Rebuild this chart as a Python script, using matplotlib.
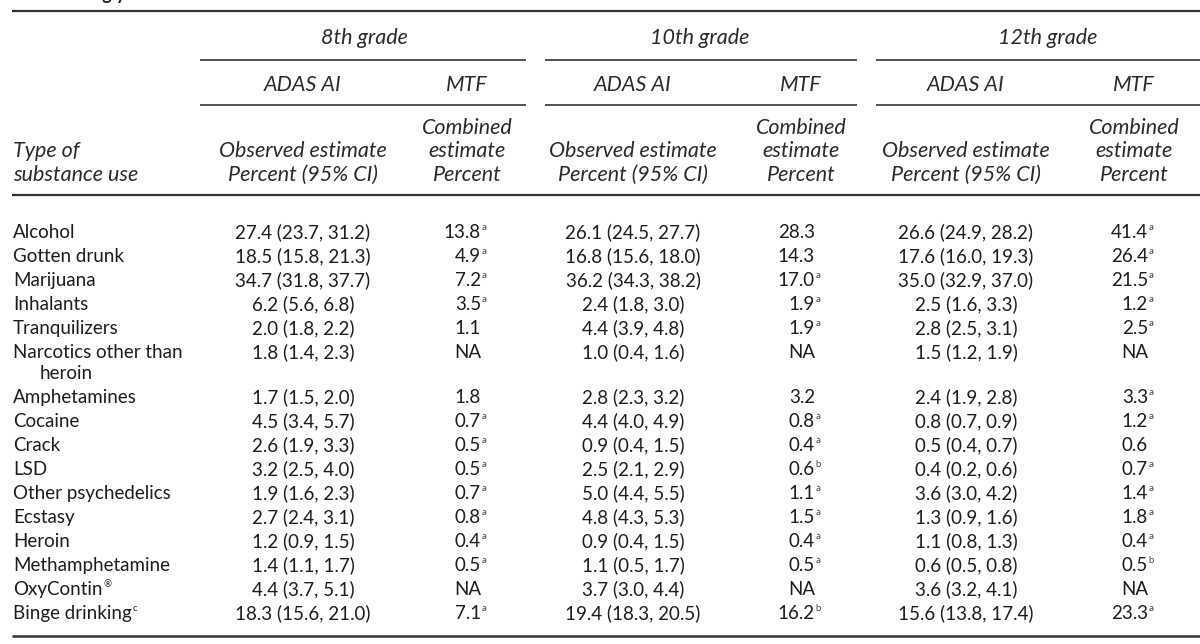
import matplotlib
matplotlib.use("Agg")
import matplotlib.pyplot as plt

# ---------------------------------------------------------
# DATA
# ---------------------------------------------------------

substances = [
    "Alcohol", "Gotten drunk", "Marijuana", "Inhalants", "Tranquilizers",
    "Narcotics other than", "Amphetamines", "Cocaine", "Crack", "LSD",
    "Other psychedelics", "Ecstasy", "Heroin", "Methamphetamine",
    "OxyContin", "Binge drinking",
]
label_marks = {"OxyContin": "®", "Binge drinking": "c"}
wrapped = {"Narcotics other than": "heroin"}

grades = ["8th grade", "10th grade", "12th grade"]

# ADAS AI observed estimate with 95% CI
adas_8 = [27.4, 18.5, 34.7, 6.2, 2.0, 1.8, 1.7, 4.5, 2.6, 3.2, 1.9, 2.7, 1.2, 1.4, 4.4, 18.3]
lo_8 = [23.7, 15.8, 31.8, 5.6, 1.8, 1.4, 1.5, 3.4, 1.9, 2.5, 1.6, 2.4, 0.9, 1.1, 3.7, 15.6]
hi_8 = [31.2, 21.3, 37.7, 6.8, 2.2, 2.3, 2.0, 5.7, 3.3, 4.0, 2.3, 3.1, 1.5, 1.7, 5.1, 21.0]

adas_10 = [26.1, 16.8, 36.2, 2.4, 4.4, 1.0, 2.8, 4.4, 0.9, 2.5, 5.0, 4.8, 0.9, 1.1, 3.7, 19.4]
lo_10 = [24.5, 15.6, 34.3, 1.8, 3.9, 0.4, 2.3, 4.0, 0.4, 2.1, 4.4, 4.3, 0.4, 0.5, 3.0, 18.3]
hi_10 = [27.7, 18.0, 38.2, 3.0, 4.8, 1.6, 3.2, 4.9, 1.5, 2.9, 5.5, 5.3, 1.5, 1.7, 4.4, 20.5]

adas_12 = [26.6, 17.6, 35.0, 2.5, 2.8, 1.5, 2.4, 0.8, 0.5, 0.4, 3.6, 1.3, 1.1, 0.6, 3.6, 15.6]
lo_12 = [24.9, 16.0, 32.9, 1.6, 2.5, 1.2, 1.9, 0.7, 0.4, 0.2, 3.0, 0.9, 0.8, 0.5, 3.2, 13.8]
hi_12 = [28.2, 19.3, 37.0, 3.3, 3.1, 1.9, 2.8, 0.9, 0.7, 0.6, 4.2, 1.6, 1.3, 0.8, 4.1, 17.4]

# MTF combined estimate (None = NA) and footnote marks
mtf_8 = [13.8, 4.9, 7.2, 3.5, 1.1, None, 1.8, 0.7, 0.5, 0.5, 0.7, 0.8, 0.4, 0.5, None, 7.1]
note_8 = ["a", "a", "a", "a", "", "", "", "a", "a", "a", "a", "a", "a", "a", "", "a"]

mtf_10 = [28.3, 14.3, 17.0, 1.9, 1.9, None, 3.2, 0.8, 0.4, 0.6, 1.1, 1.5, 0.4, 0.5, None, 16.2]
note_10 = ["", "", "a", "a", "a", "", "", "a", "a", "b", "a", "a", "a", "a", "", "b"]

mtf_12 = [41.4, 26.4, 21.5, 1.2, 2.5, None, 3.3, 1.2, 0.6, 0.7, 1.4, 1.8, 0.4, 0.5, None, 23.3]
note_12 = ["a", "a", "a", "a", "a", "", "a", "a", "", "a", "a", "a", "a", "b", "", "a"]

# ---------------------------------------------------------
# LAYOUT (pixel units, y downwards)
# ---------------------------------------------------------

FONT = "Lato"
TXT = "#1e1e1e"
HEAD = "#2b2b2b"
RULE = "#333333"
fs = 13.5
head_fs = 15.5
sup_fs = 7.0

spans = [(200, 526), (545, 857), (876, 1200)]
grade_x = [364, 700, 1048]
adas_x = [303, 633, 966]
mtf_x = [467, 801, 1134]

y_top = 11
y_grade = 38
y_grade_rule = 60
y_sub = 85
y_sub_rule = 105
y_head = [128, 151, 175]
y_head_rule = 195
y_first = 232
row_h = 24.0
y_bottom = 636

fig = plt.figure(figsize=(12, 6.44), dpi=100)
ax = fig.add_axes([0, 0, 1, 1])
ax.set_xlim(0, 1200)
ax.set_ylim(644, 0)
ax.axis("off")


def txt(x, y, s, ha="center", style="normal", size=fs, color=TXT):
    return ax.text(x, y, s, ha=ha, va="center", fontsize=size, fontstyle=style,
                   family=[FONT, "DejaVu Sans"], color=color)


def head(x, y, s, ha="center"):
    return txt(x, y, s, ha=ha, style="italic", size=head_fs, color=HEAD)


def rule(x0, x1, y, lw):
    ax.plot([x0, x1], [y, y], color=RULE, lw=lw, solid_capstyle="butt")


# caption above the table, clipped by the top edge
ax.text(92, 0, "ng y", ha="left", va="baseline", fontsize=13, fontweight="bold",
        family=[FONT], color=TXT)

rule(12, 1200, y_top, 1.6)
rule(12, 1200, y_head_rule, 1.6)
rule(12, 1200, y_bottom, 1.8)

for g, (x0, x1), gx, ax_x, mx in zip(grades, spans, grade_x, adas_x, mtf_x):
    head(gx, y_grade, g)
    rule(x0, x1, y_grade_rule, 1.2)
    head(ax_x, y_sub, "ADAS AI")
    head(mx, y_sub, "MTF")
    rule(x0, x1, y_sub_rule, 1.2)
    head(mx, y_head[0], "Combined")
    head(mx, y_head[1], "estimate")
    head(mx, y_head[2], "Percent")
    head(ax_x, y_head[1], "Observed estimate")
    head(ax_x, y_head[2], "Percent (95% CI)")

head(13, y_head[1], "Type of", ha="left")
head(13, y_head[2], "substance use", ha="left")

# ---------------------------------------------------------
# BODY
# ---------------------------------------------------------

fig.canvas.draw()
renderer = fig.canvas.get_renderer()
inv = ax.transData.inverted()


def right_edge(t):
    bb = t.get_window_extent(renderer)
    return inv.transform((bb.x1, bb.y1))[0]


adas_sets = [(adas_8, lo_8, hi_8), (adas_10, lo_10, hi_10), (adas_12, lo_12, hi_12)]
mtf_sets = [(mtf_8, note_8), (mtf_10, note_10), (mtf_12, note_12)]

y = y_first
for i, name in enumerate(substances):
    t = txt(13, y, name, ha="left")
    if name in label_marks:
        fig.canvas.draw()
        txt(right_edge(t) + 0.5, y - 5, label_marks[name], ha="left", size=sup_fs)

    for (est, lo, hi), ax_x in zip(adas_sets, adas_x):
        txt(ax_x, y, f"{est[i]:.1f} ({lo[i]:.1f}, {hi[i]:.1f})")

    for (vals, notes), mx in zip(mtf_sets, mtf_x):
        right = mx + 14
        s = "NA" if vals[i] is None else f"{vals[i]:.1f}"
        txt(right, y, s, ha="right")
        if notes[i]:
            txt(right + 0.5, y - 5, notes[i], ha="left", size=sup_fs, color="#444444")

    if name in wrapped:
        y += row_h * 0.9
        txt(40, y, wrapped[name], ha="left")
    y += row_h

fig.savefig("out.png", dpi=100)
